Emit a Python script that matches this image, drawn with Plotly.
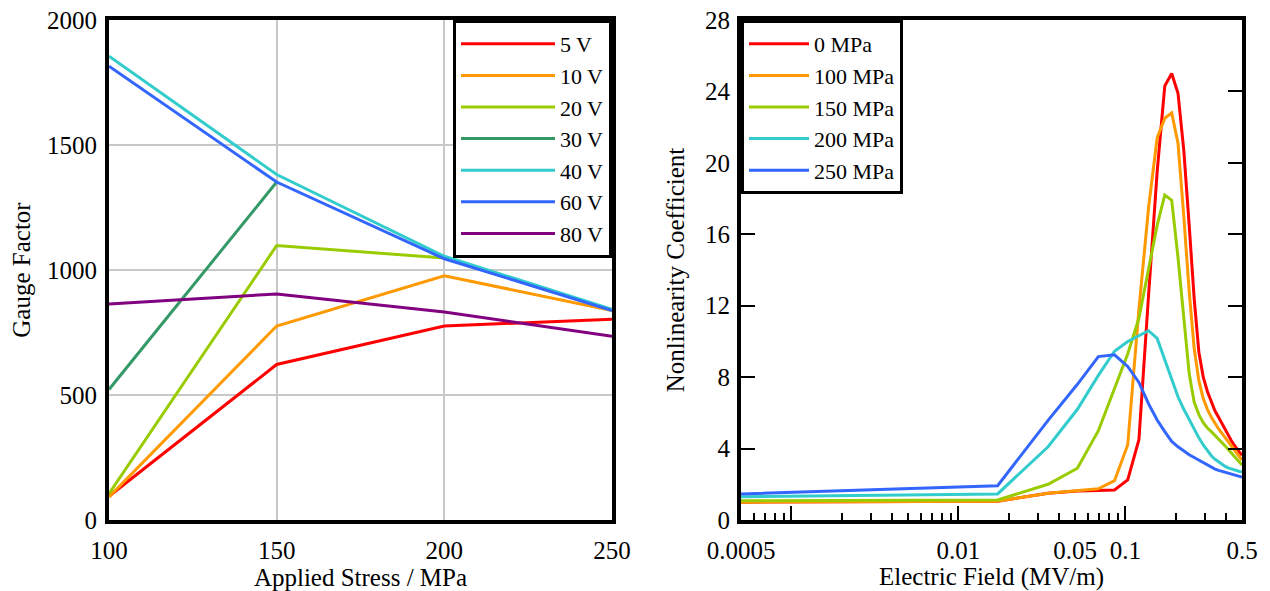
import plotly.graph_objects as go

# ---------------- Left panel data ----------------
stress = [100, 150, 200, 250]
gf_labels = ["5 V", "10 V", "20 V", "30 V", "40 V", "60 V", "80 V"]
gf_5V = [95, 622, 776, 803]
gf_10V = [92, 776, 977, 838]
gf_20V = [105, 1098, 1048, 840]
gf_30V = [522, 1352, None, None]
gf_40V = [1855, 1382, 1055, 843]
gf_60V = [1815, 1352, 1045, 838]
gf_80V = [864, 904, 832, 735]
gf_colors = ["#ff0000", "#ff9900", "#99cc00", "#339966", "#33cccc", "#3366ff", "#800080"]

# ---------------- Right panel data ----------------
efield = [0.0005, 0.0172, 0.0345, 0.0517, 0.069, 0.0862, 0.1034, 0.1207, 0.1379, 0.1552,
          0.1724, 0.1897, 0.2069, 0.2241, 0.2414, 0.2586, 0.2759, 0.2931, 0.3103, 0.3276,
          0.3448, 0.3621, 0.3793, 0.3966, 0.4138, 0.431, 0.4483, 0.4655, 0.4828, 0.5]
nc_labels = ["0 MPa", "100 MPa", "150 MPa", "200 MPa", "250 MPa"]
nc_0 = [1.0, 1.05, 1.5, 1.62, 1.65, 1.68, 2.25, 4.5, 12.6, 19.5,
        24.3, 25.0, 23.9, 20.7, 16.5, 12.4, 9.4, 8.0, 7.2, 6.6,
        6.1, 5.75, 5.4, 5.05, 4.7, 4.45, 4.2, 4.0, 3.8, 3.62]
nc_100 = [1.0, 1.05, 1.5, 1.64, 1.75, 2.2, 4.2, 11.8, 17.5, 21.4,
          22.5, 22.8, 21.1, 17.0, 12.8, 9.6, 7.8, 6.8, 6.2, 5.75,
          5.4, 5.1, 4.85, 4.6, 4.35, 4.15, 3.95, 3.75, 3.55, 3.36]
nc_150 = [1.08, 1.12, 2.0, 2.9, 5.0, 7.4, 9.3, 11.3, 14.1, 16.5,
          18.2, 17.9, 14.7, 11.3, 8.2, 6.6, 5.9, 5.45, 5.15, 4.95,
          4.75, 4.55, 4.35, 4.15, 3.95, 3.75, 3.6, 3.4, 3.25, 3.08]
nc_200 = [1.3, 1.46, 4.1, 6.2, 8.1, 9.45, 10.0, 10.3, 10.6, 10.17,
          8.97, 7.9, 6.9, 6.2, 5.6, 5.1, 4.6, 4.2, 3.9, 3.6,
          3.4, 3.25, 3.1, 3.0, 2.92, 2.86, 2.8, 2.76, 2.72, 2.7]
nc_250 = [1.46, 1.92, 5.58, 7.6, 9.15, 9.25, 8.6, 7.7, 6.5, 5.6,
          4.95, 4.4, 4.1, 3.85, 3.65, 3.5, 3.35, 3.2, 3.05, 2.95,
          2.85, 2.78, 2.72, 2.66, 2.6, 2.55, 2.5, 2.47, 2.44, 2.4]
nc_colors = ["#ff0000", "#ff9900", "#99cc00", "#33cccc", "#3366ff"]

ef_label_vals = [0.0005, 0.01, 0.05, 0.1, 0.5]
ef_label_text = ["0.0005", "0.01", "0.05", "0.1", "0.5"]
ef_decades = [0.001, 0.01, 0.1]
ef_minor = [0.0006, 0.0007, 0.0008, 0.0009,
            0.002, 0.003, 0.004, 0.005, 0.006, 0.007, 0.008, 0.009,
            0.02, 0.03, 0.04, 0.06, 0.07, 0.08, 0.09,
            0.2, 0.3, 0.4]

FONT = "Liberation Serif, Times New Roman, Times, serif"
fig = go.Figure()

for name, ys, c in zip(gf_labels, [gf_5V, gf_10V, gf_20V, gf_30V, gf_40V, gf_60V, gf_80V], gf_colors):
    fig.add_trace(go.Scatter(x=stress, y=ys, mode="lines", name=name,
                             line=dict(color=c, width=3), xaxis="x", yaxis="y",
                             legend="legend"))

for name, ys, c in zip(nc_labels, [nc_0, nc_100, nc_150, nc_200, nc_250], nc_colors):
    fig.add_trace(go.Scatter(x=efield, y=ys, mode="lines", name=name,
                             line=dict(color=c, width=3), xaxis="x2", yaxis="y2",
                             legend="legend2"))

# invisible carrier so the overlaid decade-tick axis is drawn
fig.add_trace(go.Scatter(x=efield, y=nc_250, mode="lines", line=dict(width=0),
                         opacity=0, showlegend=False, hoverinfo="skip",
                         xaxis="x3", yaxis="y2"))

# page body has an 8px margin: figure sized/positioned to fill the visible window
W, H = 1262, 583
OFF = 8
xl = [(109 - OFF) / W, (612 - OFF) / W]
xr = [(741 - OFF) / W, (1242 - OFF) / W]
yd = [1 - (520 - OFF) / H, 1 - (20 - OFF) / H]

frame = dict(showline=True, linecolor="black", linewidth=4, mirror=True,
             zeroline=False, automargin=False, ticklabeloverflow="allow")
TS = 25

fig.update_layout(
    width=W, height=H,
    margin=dict(l=0, r=0, t=0, b=0),
    paper_bgcolor="white", plot_bgcolor="white",
    font=dict(family=FONT, size=TS, color="black"),
    showlegend=True,
    xaxis=dict(domain=xl, range=[100, 250], tickvals=stress, ticks="",
               showgrid=True, gridcolor="#c8c8c8", gridwidth=2, ticklabelstandoff=5,
               title=dict(text="Applied Stress / MPa", font=dict(size=TS), standoff=6),
               anchor="y", **frame),
    yaxis=dict(domain=yd, range=[0, 2000], tickvals=[0, 500, 1000, 1500, 2000], ticks="",
               showgrid=True, gridcolor="#c8c8c8", gridwidth=2, ticklabelstandoff=3,
               title=dict(text="Gauge Factor", font=dict(size=TS), standoff=14),
               anchor="x", **frame),
    xaxis2=dict(domain=xr, type="log", range=[-3.30103, -0.30103],
                tickmode="array", tickvals=ef_label_vals, ticktext=ef_label_text,
                ticks="inside", ticklen=7, tickwidth=1.5, tickcolor="black",
                ticklabelstandoff=5,
                minor=dict(tickmode="array", tickvals=ef_minor, ticks="inside",
                           ticklen=7, tickwidth=1.5, tickcolor="black", showgrid=False),
                showgrid=False, anchor="y2",
                title=dict(text="Electric Field (MV/m)", font=dict(size=TS), standoff=6),
                **frame),
    xaxis3=dict(domain=xr, type="log", range=[-3.30103, -0.30103], overlaying="x2",
                side="bottom", anchor="y2", tickmode="array", tickvals=ef_decades,
                showticklabels=False, ticks="inside", ticklen=14, tickwidth=1.5,
                tickcolor="black", showgrid=False, showline=False,
                zeroline=False, automargin=False),
    yaxis2=dict(domain=yd, range=[0, 28], tickvals=[0, 4, 8, 12, 16, 20, 24, 28],
                ticks="inside", ticklen=14, tickwidth=1.5, tickcolor="black",
                showgrid=False, anchor="x2", ticklabelstandoff=2,
                title=dict(text="Nonlinearity Coefficient", font=dict(size=TS), standoff=14),
                showline=True, linecolor="black", linewidth=4, mirror="ticks",
                zeroline=False, automargin=False, ticklabeloverflow="allow"),
    legend=dict(x=xl[1], xanchor="right", y=yd[1], yanchor="top",
                bordercolor="black", borderwidth=3, bgcolor="white",
                font=dict(family=FONT, size=22), itemwidth=94, tracegroupgap=0),
    legend2=dict(x=xr[0], xanchor="left", y=yd[1], yanchor="top",
                 bordercolor="black", borderwidth=3, bgcolor="white",
                 font=dict(family=FONT, size=22), itemwidth=60, tracegroupgap=0),
)

fig.write_html("out.html")
